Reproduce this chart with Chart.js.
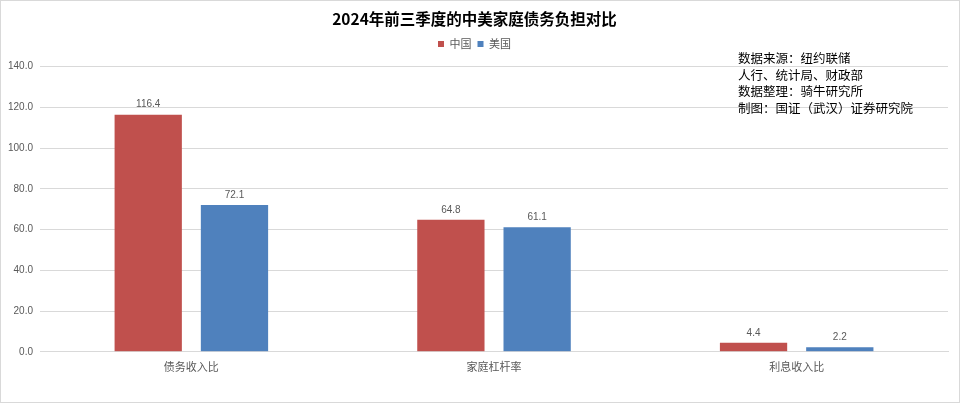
<!DOCTYPE html>
<html><head><meta charset="utf-8">
<script src="https://cdn.jsdelivr.net/npm/chart.js@4.4.1/dist/chart.umd.min.js"></script>
<style>
html,body{margin:0;padding:0;background:#fff;}
#wrap{position:relative;width:958px;height:401px;border:1px solid #d9d9d9;}
#note{position:absolute;left:737px;top:49px;font:12.5px "Noto Sans CJK SC",sans-serif;line-height:16.5px;color:#000;white-space:pre;}
</style></head>
<body>
<div id="wrap"><canvas id="c" width="958" height="401"></canvas>
<div id="note">数据来源：纽约联储
人行、统计局、财政部
数据整理：骑牛研究所
制图：国证（武汉）证券研究院</div></div>
<script>
const categories = ['债务收入比','家庭杠杆率','利息收入比'];
const chinaValues = [116.4, 64.8, 4.4];
const usValues = [72.1, 61.1, 2.2];
const seriesNames = ['中国','美国'];
const yTicks = {min:0, max:140, step:20};

const FONT = '"Liberation Sans","Noto Sans CJK SC",sans-serif';
const labelPlugin = {
  id:'vals',
  afterDatasetsDraw(chart){
    const ctx = chart.ctx;
    ctx.save();
    ctx.font = '10px ' + FONT;
    ctx.fillStyle = '#595959';
    ctx.textAlign = 'center';
    ctx.textBaseline = 'bottom';
    chart.data.datasets.forEach((ds,i)=>{
      chart.getDatasetMeta(i).data.forEach((bar,j)=>{
        ctx.fillText(ds.data[j].toFixed(1), bar.x, bar.y - 5);
      });
    });
    ctx.restore();
  }
};
const legendMargin = {
  id:'legendMargin',
  beforeInit(chart){
    const orig = chart.legend.fit;
    chart.legend.fit = function(){ orig.bind(this)(); this.height += 7; };
  }
};

new Chart(document.getElementById('c'),{
  type:'bar',
  data:{
    labels:categories,
    datasets:[
      {label:seriesNames[0], data:chinaValues, backgroundColor:'#C0504D'},
      {label:seriesNames[1], data:usValues, backgroundColor:'#4F81BD'}
    ]
  },
  options:{
    responsive:false, animation:false,
    layout:{padding:{left:0,right:11,top:0,bottom:29}},
    categoryPercentage:0.57, barPercentage:0.78,
    plugins:{
      title:{display:true,text:'2024年前三季度的中美家庭债务负担对比',
        font:{family:'"Noto Sans CJK SC",sans-serif',size:15.5,weight:'bold'},color:'#000',
        padding:{top:9,bottom:4}},
      legend:{display:true,labels:{boxWidth:6,boxHeight:6,font:{family:'"Noto Sans CJK SC",sans-serif',size:11},color:'#595959',padding:6}},
      tooltip:{enabled:false}
    },
    scales:{
      x:{grid:{display:false},border:{color:'#d9d9d9'},
        ticks:{font:{family:'"Noto Sans CJK SC",sans-serif',size:11},color:'#595959',padding:0}},
      y:{min:yTicks.min,max:yTicks.max,
        ticks:{stepSize:yTicks.step,callback:v=>v.toFixed(1),font:{family:FONT,size:10},color:'#595959',padding:7},
        grid:{color:'#d9d9d9',drawTicks:false},border:{display:false}}
    }
  },
  plugins:[labelPlugin, legendMargin]
});
</script>
</body></html>
